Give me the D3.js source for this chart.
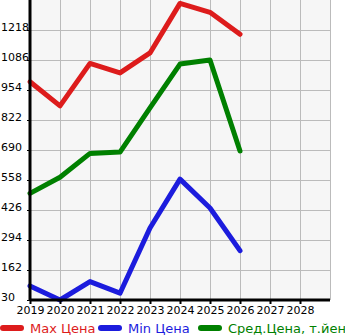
<!DOCTYPE html>
<html>
<head>
<meta charset="utf-8">
<script src="https://cdn.jsdelivr.net/npm/d3@7"></script>
<style>
  body { margin: 0; background: #fff; }
  text { font-family: "DejaVu Sans", sans-serif; }
</style>
</head>
<body>
<div id="chart"></div>
<script>
let svgWidth = 345;
let svgHeight = 335;

// Data
let years = [2019, 2020, 2021, 2022, 2023, 2024, 2025, 2026];
let maxPrice = [990, 884, 1071, 1029, 1117, 1335, 1296, 1199];
let minPrice = [92, 30, 111, 60, 347, 562, 435, 247];
let avgPrice = [499, 570, 675, 681, 875, 1068, 1086, 686];
let yTicks = [30, 162, 294, 426, 558, 690, 822, 954, 1086, 1218];
let xTicks = [2019, 2020, 2021, 2022, 2023, 2024, 2025, 2026, 2027, 2028];

let series = [
    { name: 'Max Цена', values: maxPrice, color: '#dd1c1c' },
    { name: 'Min Цена', values: minPrice, color: '#1c1cdd' },
    { name: 'Сред.Цена, т.йен', values: avgPrice, color: '#008000' }
];

let svg = d3.select('#chart')
    .append('svg')
    .attr('width', svgWidth)
    .attr('height', svgHeight);

let xScale = d3.scaleLinear().domain([2019, 2029]).range([30, 330]);
let yScale = d3.scaleLinear().domain([30, 1350]).range([300, 0]);

// Plot background
svg.append('rect')
    .attr('x', xScale(2019))
    .attr('y', yScale(1350))
    .attr('width', xScale(2029) - xScale(2019))
    .attr('height', yScale(30) - yScale(1350))
    .attr('fill', '#f6f6f6');

// Grid
svg.append('g')
    .selectAll('line')
    .data(xTicks.concat([2029]))
    .enter()
    .append('line')
    .attr('x1', d => xScale(d) + 0.5)
    .attr('x2', d => xScale(d) + 0.5)
    .attr('y1', yScale(1350))
    .attr('y2', yScale(30))
    .attr('stroke', '#bbb')
    .attr('stroke-width', 1);

svg.append('g')
    .selectAll('line')
    .data(yTicks)
    .enter()
    .append('line')
    .attr('x1', xScale(2019))
    .attr('x2', xScale(2029))
    .attr('y1', d => yScale(d) + 0.5)
    .attr('y2', d => yScale(d) + 0.5)
    .attr('stroke', '#bbb')
    .attr('stroke-width', 1);

// Lines
let line = d3.line()
    .x((d, i) => xScale(years[i]))
    .y(d => yScale(d));

svg.append('g')
    .selectAll('path')
    .data(series)
    .enter()
    .append('path')
    .attr('d', d => line(d.values))
    .attr('fill', 'none')
    .attr('stroke', d => d.color)
    .attr('stroke-width', 5)
    .attr('stroke-linejoin', 'round')
    .attr('stroke-linecap', 'round');

// Axes
let bottomAxis = d3.axisBottom(xScale)
    .tickValues(xTicks)
    .tickFormat(d3.format('d'))
    .tickSize(4);

let xAxis = svg.append('g')
    .attr('transform', `translate(0, ${yScale(30)})`)
    .call(bottomAxis);
xAxis.select('.domain')
    .attr('d', `M${xScale(2019)},0H${xScale(2029)}`)
    .attr('stroke-width', 3);
xAxis.selectAll('.tick line').attr('stroke-width', 2);
xAxis.selectAll('.tick text')
    .attr('y', 6)
    .attr('font-size', 11)
    .attr('fill', '#000');

let yAxis = svg.append('g')
    .attr('transform', `translate(${xScale(2019)}, 0)`)
    .call(d3.axisLeft(yScale).tickValues(yTicks).tickSize(3).tickFormat(d3.format('d')));
yAxis.select('.domain')
    .attr('d', `M0,${yScale(1350)}V${yScale(30) + 1}`)
    .attr('stroke-width', 3);
yAxis.selectAll('.tick text')
    .attr('x', 1 - xScale(2019))
    .attr('dy', '0')
    .attr('y', 0)
    .attr('text-anchor', 'start')
    .attr('font-size', 11)
    .attr('fill', '#000');

// Legend
let legendX = [0, 98, 198];
let legend = svg.append('g')
    .selectAll('g')
    .data(series)
    .enter()
    .append('g')
    .attr('transform', (d, i) => `translate(${legendX[i]}, 328)`);

legend.append('line')
    .attr('x1', 3)
    .attr('x2', 21)
    .attr('stroke', d => d.color)
    .attr('stroke-width', 6)
    .attr('stroke-linecap', 'round');

legend.append('text')
    .attr('x', 30)
    .attr('y', 5)
    .attr('font-size', 13)
    .attr('fill', d => d.color)
    .text(d => d.name);
</script>
</body>
</html>
